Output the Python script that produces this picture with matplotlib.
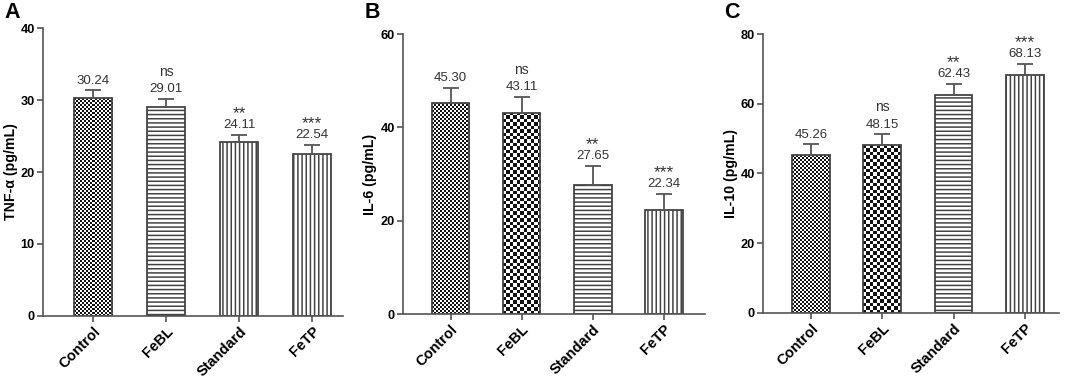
import numpy as np
import matplotlib
matplotlib.use("Agg")
import matplotlib.pyplot as plt

plt.rcParams['font.family'] = ['Liberation Sans', 'DejaVu Sans']
plt.rcParams['hatch.linewidth'] = 1.1
plt.rcParams['hatch.color'] = '#444444'

# ===================== 数据 =====================
groups = ['Control', 'FeBL', 'Standard', 'FeTP']

tnf_mean = [30.24, 29.01, 24.11, 22.54]
tnf_err = [1.15, 1.2, 1.1, 1.25]
il6_mean = [45.30, 43.11, 27.65, 22.34]
il6_err = [3.2, 3.4, 4.1, 3.4]
il10_mean = [45.26, 48.15, 62.43, 68.13]
il10_err = [3.2, 3.1, 3.3, 3.3]

sig_tnf = ['', 'ns', '**', '***']
sig_il6 = ['', 'ns', '**', '***']
sig_il10 = ['', 'ns', '**', '***']

# 每个柱子的填充: fine=细棋盘, coarse=粗棋盘, h=横线, v=竖线
fill_tnf = ['fine', 'h', 'v', 'v']
fill_il6 = ['fine', 'coarse', 'h', 'v']
fill_il10 = ['fine', 'coarse', 'h', 'v']

panels = [
    dict(letter='A', ylabel='TNF-α (pg/mL)', mean=tnf_mean, err=tnf_err, sig=sig_tnf,
         fill=fill_tnf, ylim=40, yticks=[0, 10, 20, 30, 40],
         rect=[0.0401, 0.1626, 0.2799, 0.7623], xlim=(-0.685, 3.42), width=0.52),
    dict(letter='B', ylabel='IL-6 (pg/mL)', mean=il6_mean, err=il6_err, sig=sig_il6,
         fill=fill_il6, ylim=60, yticks=[0, 20, 40, 60],
         rect=[0.3759, 0.1671, 0.2817, 0.7427], xlim=(-0.67, 3.58), width=0.53),
    dict(letter='C', ylabel='IL-10 (pg/mL)', mean=il10_mean, err=il10_err, sig=sig_il10,
         fill=fill_il10, ylim=80, yticks=[0, 20, 40, 60, 80],
         rect=[0.7118, 0.1698, 0.2761, 0.740], xlim=(-0.674, 3.48), width=0.53),
]

AXC = '#555555'
fig = plt.figure(figsize=(10.72, 3.77), dpi=100)


def checker_fill(ax, bar, cell_px, dark):
    """用棋盘图像填充柱子（裁剪到柱子形状）"""
    x0, y0 = bar.get_x(), bar.get_y()
    x1, y1 = x0 + bar.get_width(), y0 + bar.get_height()
    p0 = ax.transData.transform((x0, y0))
    p1 = ax.transData.transform((x1, y1))
    nx = max(1, int(round((p1[0] - p0[0]) / cell_px)))
    ny = max(1, int(round((p1[1] - p0[1]) / cell_px)))
    img = (np.indices((ny, nx)).sum(axis=0) % 2).astype(float)
    im = ax.imshow(img, cmap=matplotlib.colors.ListedColormap([dark, 'white']),
                   extent=(x0, x1, y0, y1), aspect='auto', interpolation='nearest',
                   zorder=1.5)
    im.set_clip_path(bar)


for p in panels:
    ax = fig.add_axes(p['rect'])
    x = np.arange(len(groups))
    ax.set_xlim(*p['xlim'])
    ax.set_ylim(0, p['ylim'])
    hatches = {'fine': None, 'coarse': None, 'h': '----', 'v': '||||'}
    bars = ax.bar(x, p['mean'], width=p['width'], color='white', edgecolor='#444444',
                  linewidth=1.3, zorder=2)
    for b, f in zip(bars, p['fill']):
        if hatches[f]:
            b.set_hatch(hatches[f])
    ax.errorbar(x, p['mean'], yerr=[np.zeros(len(x)), p['err']], fmt='none',
                ecolor='#555555', elinewidth=1.3, capsize=5.5, capthick=1.3, zorder=3)
    # 棋盘填充
    for b, f in zip(bars, p['fill']):
        if f == 'fine':
            checker_fill(ax, b, 2.0, '#111111')
            b.set_facecolor('none')
        elif f == 'coarse':
            checker_fill(ax, b, 3.4, '#111111')
            b.set_facecolor('none')
    ax.set_xlim(*p['xlim'])
    ax.set_ylim(0, p['ylim'])

    # 数值与显著性标注
    for xi, m, e, s in zip(x, p['mean'], p['err'], p['sig']):
        ax.annotate(f'{m:.2f}', (xi, m + e), xytext=(0, 2.5), textcoords='offset points',
                    ha='center', va='bottom', fontsize=9.5, color='#333333')
        if s == 'ns':
            ax.annotate(s, (xi, m + e), xytext=(0, 14.5), textcoords='offset points',
                        ha='center', va='bottom', fontsize=10, color='#333333')
        elif s:
            ax.annotate(s, (xi, m + e), xytext=(0, 10), textcoords='offset points',
                        ha='center', va='bottom', fontsize=12.5, color='#333333')

    ax.set_yticks(p['yticks'])
    ax.set_xticks(x)
    ax.set_xticklabels(groups, rotation=45, ha='right', rotation_mode='anchor',
                       fontsize=10.5, fontweight='bold')
    for lab in ax.get_yticklabels():
        lab.set_fontsize(9.2)
        lab.set_fontweight('bold')
    ax.set_ylabel(p['ylabel'], fontsize=10.2, fontweight='bold', labelpad=2)
    for side in ['top', 'right']:
        ax.spines[side].set_visible(False)
    for side in ['left', 'bottom']:
        ax.spines[side].set_color(AXC)
        ax.spines[side].set_linewidth(1.2)
    ax.tick_params(axis='both', color=AXC, width=1.2, length=4, pad=2)

    # 面板字母
    fig.text(p['rect'][0] - 0.036, 0.995, p['letter'], fontsize=15.5, fontweight='bold',
             ha='left', va='top')

fig.savefig('out.png', dpi=100)
